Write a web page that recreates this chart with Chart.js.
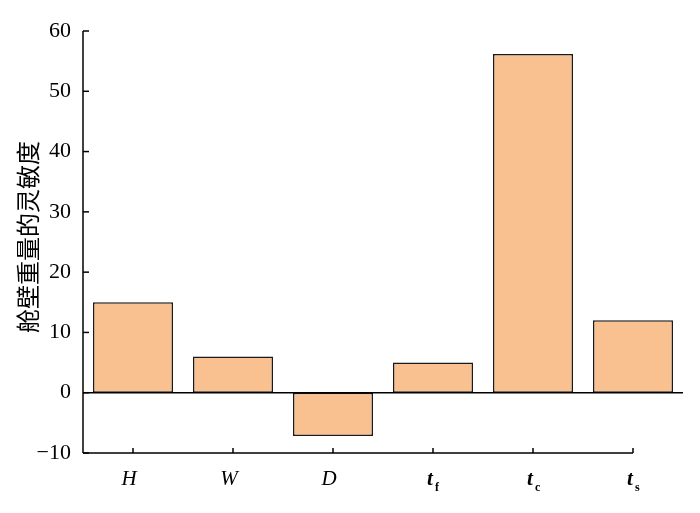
<!DOCTYPE html>
<html>
<head>
<meta charset="utf-8">
<script src="https://cdn.jsdelivr.net/npm/chart.js@4"></script>
<style>
  html, body { margin: 0; padding: 0; background: #fff; }
  #wrap { width: 700px; height: 513px; }
</style>
</head>
<body>
<div id="wrap"><canvas id="sens"></canvas></div>
<script>
const categories = ["H", "W", "D", "t_f", "t_c", "t_s"];
const sensitivity = [15, 6, -7.2, 5, 56.2, 12];
const yTicks = [-10, 0, 10, 20, 30, 40, 50, 60];
const yTitle = "舱壁重量的灵敏度";

const serif = "'Liberation Serif', 'DejaVu Serif', serif";

// axes, zero line and labels drawn by hand (the original has inward ticks
// and a bottom axis that stops at the last category)
const axisPlugin = {
    id: "axisPlugin",
    afterDraw(chart) {
        const ctx = chart.ctx;
        const xs = chart.scales.x;
        const ys = chart.scales.y;
        const area = chart.chartArea;
        ctx.save();
        ctx.strokeStyle = "#000";
        ctx.lineWidth = 1.5;

        // left axis
        ctx.beginPath();
        ctx.moveTo(area.left, area.top);
        ctx.lineTo(area.left, area.bottom);
        ctx.stroke();
        yTicks.forEach(v => {
            const y = ys.getPixelForValue(v);
            ctx.beginPath();
            ctx.moveTo(area.left, y);
            ctx.lineTo(area.left + 6, y);
            ctx.stroke();
        });

        // bottom axis up to the last category
        const lastX = xs.getPixelForValue(categories.length - 1);
        ctx.beginPath();
        ctx.moveTo(area.left, area.bottom);
        ctx.lineTo(lastX, area.bottom);
        ctx.stroke();
        categories.forEach((c, i) => {
            const x = xs.getPixelForValue(i);
            ctx.beginPath();
            ctx.moveTo(x, area.bottom);
            ctx.lineTo(x, area.bottom - 5);
            ctx.stroke();
        });

        // zero line
        const y0 = ys.getPixelForValue(0);
        ctx.beginPath();
        ctx.moveTo(area.left, y0);
        ctx.lineTo(area.right, y0);
        ctx.stroke();

        // category labels, with subscripts
        ctx.fillStyle = "#000";
        ctx.textBaseline = "alphabetic";
        categories.forEach((c, i) => {
            const x = xs.getPixelForValue(i);
            const base = area.bottom + 32;
            const parts = c.split("_");
            if (parts.length === 1) {
                ctx.font = "italic 21px " + serif;
                ctx.textAlign = "center";
                ctx.fillText(parts[0], x - 4, base);
            } else {
                ctx.font = "bold italic 21px " + serif;
                ctx.textAlign = "left";
                const w = ctx.measureText(parts[0]).width;
                ctx.fillText(parts[0], x - w / 2 - 3, base);
                ctx.font = "bold 12px " + serif;
                ctx.fillText(parts[1], x + w / 2 - 1, base + 6);
            }
        });

        // y title
        ctx.translate(28, 237);
        ctx.rotate(-Math.PI / 2);
        ctx.font = "24px 'Noto Sans CJK SC'";
        ctx.textAlign = "center";
        ctx.textBaseline = "middle";
        ctx.fillText(yTitle, 0, 0);
        ctx.restore();
    }
};

new Chart(document.getElementById("sens"), {
    type: "bar",
    data: {
        labels: categories,
        datasets: [
            {
                data: sensitivity,
                backgroundColor: "#F8C18F",
                borderColor: "#1a1a1a",
                borderWidth: 1.5,
                borderSkipped: false,
                categoryPercentage: 0.8,
                barPercentage: 1.0,
            },
        ],
    },
    options: {
        responsive: true,
        maintainAspectRatio: false,
        animation: false,
        layout: { padding: { left: 0, right: 17, top: 31, bottom: 60 } },
        plugins: { legend: { display: false }, tooltip: { enabled: false } },
        scales: {
            x: {
                grid: { display: false },
                border: { display: false },
                ticks: { display: false },
                afterFit(scale) { scale.height = 0; },
            },
            y: {
                min: -10,
                max: 60,
                grid: { display: false, drawTicks: false },
                border: { display: false },
                ticks: {
                    stepSize: 10,
                    padding: 12,
                    color: "#000",
                    font: { family: serif, size: 22 },
                    callback: v => (v < 0 ? "\u2212" + Math.abs(v) : String(v)),
                },
                afterFit(scale) { scale.width = 83; },
            },
        },
    },
    plugins: [axisPlugin],
});
</script>
</body>
</html>
